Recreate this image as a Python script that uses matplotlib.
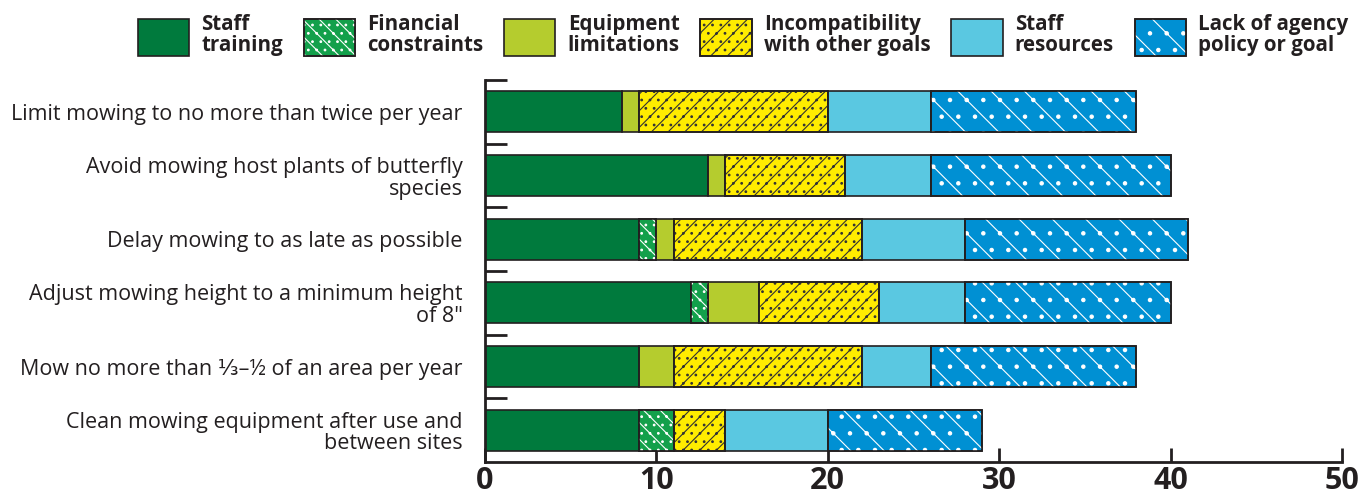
import numpy as np
import matplotlib
matplotlib.use("Agg")
import matplotlib.pyplot as plt
from matplotlib.patches import Patch
from matplotlib.legend_handler import HandlerBase
from matplotlib.patches import Rectangle

plt.rcParams['font.family'] = ['Open Sans', 'DejaVu Sans']
plt.rcParams['hatch.linewidth'] = 0.8

practices = [
    "Limit mowing to no more than twice per year",
    "Avoid mowing host plants of butterfly\nspecies",
    "Delay mowing to as late as possible",
    "Adjust mowing height to a minimum height\nof 8\"",
    "Mow no more than \u2153\u2013\u00bd of an area per year",
    "Clean mowing equipment after use and\nbetween sites",
]
barriers = ["Staff\ntraining", "Financial\nconstraints", "Equipment\nlimitations",
            "Incompatibility\nwith other goals", "Staff\nresources", "Lack of agency\npolicy or goal"]

staff_training = [8, 13, 9, 12, 9, 9]
financial = [0, 0, 1, 1, 0, 2]
equipment = [1, 1, 1, 3, 2, 0]
incompatibility = [11, 7, 11, 7, 11, 3]
staff_resources = [6, 5, 6, 5, 4, 6]
lack_policy = [12, 14, 13, 12, 12, 9]

series = [staff_training, financial, equipment, incompatibility, staff_resources, lack_policy]
colors = ["#007A3D", "#13A04B", "#B5CC2E", "#FFEC00", "#5AC8E1", "#0090D3"]
hatches = [None, "\\\\..", None, "//..", None, "\\."]
hatch_cols = [None, "white", None, "#333333", None, "white"]

dark = "#231F20"

fig = plt.figure(figsize=(13.62, 4.96), dpi=100)
ax = fig.add_axes([485 / 1362, 34 / 496, (1342 - 485) / 1362, (462 - 80) / 496])

y = np.arange(len(practices))
left = np.zeros(len(practices))
for vals, c, h, hc in zip(series, colors, hatches, hatch_cols):
    vals = np.array(vals, dtype=float)
    ax.barh(y, vals, left=left, height=0.64, color=c, edgecolor=dark, linewidth=1.2, zorder=2)
    if h:
        ax.barh(y, vals, left=left, height=0.64, color="none", edgecolor=hc, hatch=h, linewidth=0, zorder=3)
        ax.barh(y, vals, left=left, height=0.64, color="none", edgecolor=dark, linewidth=1.2, zorder=4)
    left += vals

ax.set_xlim(0, 50)
ax.set_ylim(len(practices) - 0.5, -0.5)
ax.set_xticks([0, 10, 20, 30, 40, 50])
ax.set_xticklabels(["0", "10", "20", "30", "40", "50"], fontsize=22, fontweight="bold", color=dark)
ax.tick_params(axis="x", direction="in", length=10, width=2, color=dark, pad=3)
ax.set_yticks(y)
ax.set_yticklabels(practices, fontsize=15.5, color=dark, linespacing=1.05)
ax.tick_params(axis="y", which="major", length=0, pad=16)
ax.set_yticks(np.arange(-0.5, len(practices) - 0.5, 1), minor=True)
ax.tick_params(axis="y", which="minor", direction="in", length=16, width=2, color=dark)
for s in ["top", "right"]:
    ax.spines[s].set_visible(False)
for s in ["left", "bottom"]:
    ax.spines[s].set_linewidth(2)
    ax.spines[s].set_color(dark)

handles = []
for c, h, hc in zip(colors, hatches, hatch_cols):
    handles.append(Patch(facecolor=c, edgecolor=dark, hatch=h, linewidth=1.2))


class HatchHandler(HandlerBase):
    def __init__(self, hc):
        super().__init__()
        self.hc = hc

    def create_artists(self, legend, orig_handle, xdescent, ydescent, width, height, fontsize, trans):
        base = Rectangle((-xdescent, -ydescent), width, height, facecolor=orig_handle.get_facecolor(),
                         edgecolor=dark, linewidth=1.2, transform=trans)
        arts = [base]
        if orig_handle.get_hatch():
            arts.append(Rectangle((-xdescent, -ydescent), width, height, facecolor="none",
                                  edgecolor=self.hc, hatch=orig_handle.get_hatch(), linewidth=0, transform=trans))
            arts.append(Rectangle((-xdescent, -ydescent), width, height, facecolor="none",
                                  edgecolor=dark, linewidth=1.2, transform=trans))
        return arts


hmap = {hd: HatchHandler(hc) for hd, hc in zip(handles, hatch_cols)}
leg = fig.legend(handles, barriers, handler_map=hmap, loc="upper center", bbox_to_anchor=(743 / 1362, 1.0),
                 ncol=6, frameon=False, fontsize=14.8, handlelength=2.5, handleheight=2.4,
                 handletextpad=0.6, columnspacing=1.0, borderaxespad=0.3)
for t in leg.get_texts():
    t.set_fontweight("bold")
    t.set_color(dark)
    t.set_linespacing(1.0)

fig.savefig("out.png", dpi=100)
